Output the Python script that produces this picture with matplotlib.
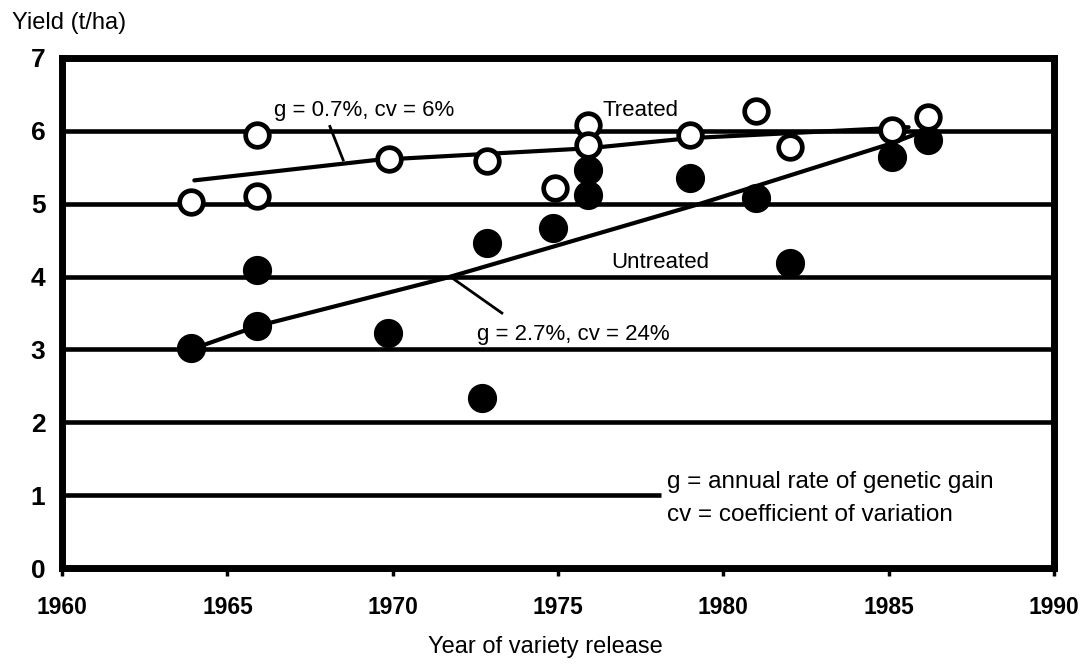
import matplotlib
matplotlib.use("Agg")
import matplotlib.pyplot as plt

# Data
years_treated = [1963.9, 1965.9, 1965.9, 1969.9, 1972.85, 1974.9, 1975.9, 1975.9,
                 1979.0, 1981.0, 1982.0, 1985.1, 1986.2]
yield_treated = [5.02, 5.94, 5.10, 5.61, 5.58, 5.21, 6.08, 5.80,
                 5.94, 6.27, 5.78, 6.01, 6.19]

years_untreated = [1963.9, 1965.9, 1965.9, 1969.85, 1972.7, 1972.85, 1974.85, 1975.9,
                   1975.9, 1979.0, 1981.0, 1982.0, 1985.1, 1986.2]
yield_untreated = [3.02, 4.09, 3.32, 3.22, 2.33, 4.46, 4.66, 5.46,
                   5.12, 5.35, 5.08, 4.18, 5.64, 5.88]

# fitted trend lines (vertices)
fit_treated_x = [1964.0, 1969.5, 1975.9, 1979.0, 1985.6]
fit_treated_y = [5.32, 5.60, 5.76, 5.90, 6.05]
fit_untreated_x = [1963.9, 1965.9, 1971.6, 1979.3, 1985.1, 1985.9]
fit_untreated_y = [3.00, 3.32, 3.98, 5.00, 5.83, 5.97]

grid_levels = [1, 2, 3, 4, 5, 6]
grid_ends = [1978.1, 1990, 1990, 1990, 1990, 1990]

x_ticks = [1960, 1965, 1970, 1975, 1980, 1985, 1990]
y_ticks = [0, 1, 2, 3, 4, 5, 6, 7]

tick_font = ['Liberation Sans', 'DejaVu Sans']
text_font = ['Liberation Sans', 'DejaVu Sans']

fig = plt.figure(figsize=(10.81, 6.66), dpi=100)
ax = fig.add_axes([0.0574, 0.147, 0.9177, 0.766])

ax.set_xlim(1960, 1990)
ax.set_ylim(0, 7)

# horizontal rules
ax.hlines(grid_levels, 1960, grid_ends, colors='black', linewidth=3.3, zorder=1)

# trend lines
ax.plot(fit_treated_x, fit_treated_y, color='black', linewidth=3, zorder=2,
        solid_capstyle='round')
ax.plot(fit_untreated_x, fit_untreated_y, color='black', linewidth=3, zorder=2,
        solid_capstyle='round')

# leader lines for the labels
ax.plot([1968.1, 1968.5], [6.06, 5.60], color='black', linewidth=2, zorder=2)
ax.plot([1971.8, 1973.3], [3.98, 3.50], color='black', linewidth=2, zorder=2)

# points
ax.plot(years_untreated, yield_untreated, 'o', color='black', markersize=20,
        linestyle='none', zorder=3)
ax.plot(years_treated, yield_treated, 'o', markerfacecolor='white',
        markeredgecolor='black', markeredgewidth=3.4, markersize=17,
        linestyle='none', zorder=4)

# labels
ax.text(1966.4, 6.21, 'g = 0.7%, cv = 6%', fontsize=16, family=text_font,
        ha='left', va='baseline', zorder=5)
ax.text(1977.5, 6.21, 'Treated', fontsize=16, family=text_font,
        ha='center', va='baseline', zorder=5)
ax.text(1978.1, 4.12, 'Untreated', fontsize=16, family=text_font,
        ha='center', va='baseline', zorder=5)
ax.text(1975.45, 3.13, 'g = 2.7%, cv = 24%', fontsize=16, family=text_font,
        ha='center', va='baseline', zorder=5)
ax.text(1978.3, 1.10, 'g = annual rate of genetic gain', fontsize=17.5,
        family=text_font, ha='left', va='baseline')
ax.text(1978.3, 0.645, 'cv = coefficient of variation', fontsize=17.5,
        family=text_font, ha='left', va='baseline')

fig.text(12 / 1081, 1 - 29 / 666, 'Yield (t/ha)', fontsize=17, family=text_font,
         ha='left', va='baseline')
fig.text(545 / 1081, 1 - 653 / 666, 'Year of variety release', fontsize=17,
         family=text_font, ha='center', va='baseline')

# axes styling
for side in ['left', 'right', 'top', 'bottom']:
    ax.spines[side].set_linewidth(5)
    ax.spines[side].set_color('black')

ax.set_xticks(x_ticks)
ax.set_yticks(y_ticks)
ax.set_xticklabels([str(v) for v in x_ticks], family=tick_font,
                   fontweight='bold', fontsize=16.5)
ax.set_yticklabels([str(v) for v in y_ticks], family=tick_font,
                   fontweight='bold', fontsize=19)
ax.tick_params(axis='x', direction='out', length=6, width=2.5, pad=14)
ax.tick_params(axis='y', length=0, pad=12)

fig.savefig('out.png', dpi=100, facecolor='white')
